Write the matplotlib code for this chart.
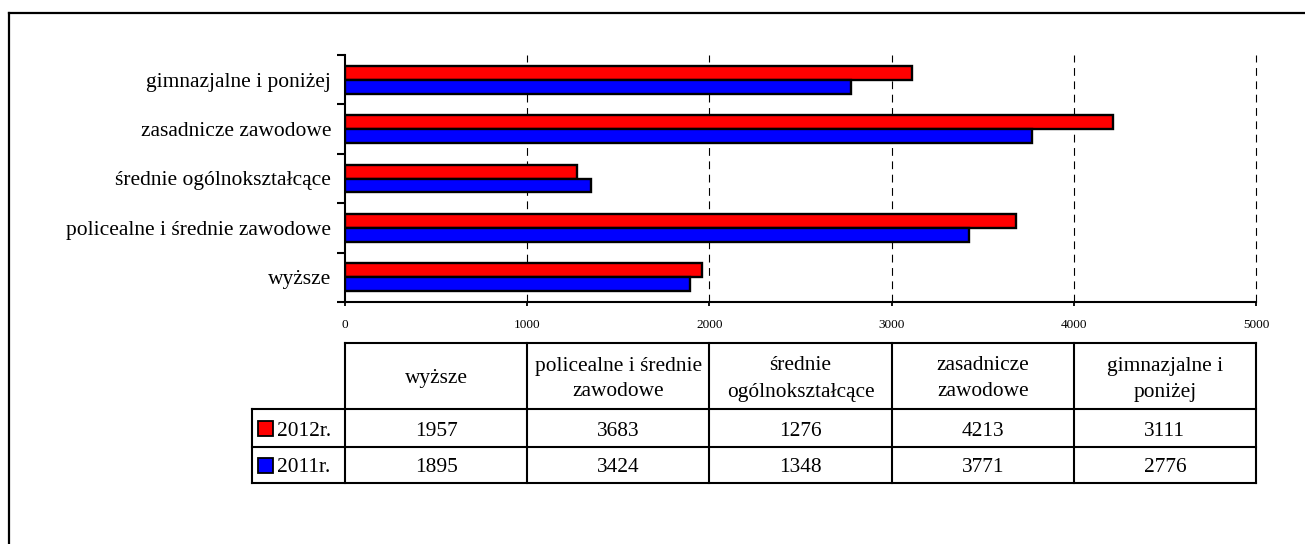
import matplotlib
matplotlib.use("Agg")
import matplotlib.pyplot as plt
import matplotlib.transforms as mtransforms
from matplotlib.patches import Rectangle
from matplotlib.lines import Line2D
import numpy as np

plt.rcParams['font.family'] = ['Liberation Serif', 'DejaVu Serif']

categories = ["wyższe", "policealne i średnie zawodowe", "średnie ogólnokształcące",
              "zasadnicze zawodowe", "gimnazjalne i poniżej"]
table_headers = ["wyższe", "policealne i średnie\nzawodowe", "średnie\nogólnokształcące",
                 "zasadnicze\nzawodowe", "gimnazjalne i\nponiżej"]
series_names = ["2012r.", "2011r."]
values_2012 = [1957, 3683, 1276, 4213, 3111]
values_2011 = [1895, 3424, 1348, 3771, 2776]
x_ticks = [0, 1000, 2000, 3000, 4000, 5000]

red = "#FF0000"
blue = "#0000FF"

W, H = 1305, 544
fig = plt.figure(figsize=(W / 100, H / 100), dpi=100)

def px_axes(l, t, r, b):
    return [l / W, 1 - b / H, (r - l) / W, (b - t) / H]

ax = fig.add_axes(px_axes(345, 55, 1256, 302))
y = np.arange(len(categories))
h = 0.28
ax.barh(y + h / 2, values_2012, height=h, color=red, edgecolor="black", linewidth=1.7, zorder=3)
ax.barh(y - h / 2, values_2011, height=h, color=blue, edgecolor="black", linewidth=1.7, zorder=3)

ax.set_xlim(0, 5000)
ax.set_ylim(-0.5, len(categories) - 0.5)
ax.set_xticks(x_ticks)
ax.set_xticklabels([str(v) for v in x_ticks], fontsize=9.5)
ax.tick_params(axis="x", direction="out", length=3, width=1.3, pad=9)
ax.set_yticks(np.arange(-0.5, len(categories), 1.0))
ax.set_yticklabels([])
ax.tick_params(axis="y", which="major", direction="out", length=6, width=1.5)
ax.set_yticks(y, minor=True)
ax.set_yticklabels(categories, minor=True, fontsize=15.5)
ax.tick_params(axis="y", which="minor", length=0, pad=10)
for s in ["top", "right"]:
    ax.spines[s].set_visible(False)
for s in ["left", "bottom"]:
    ax.spines[s].set_linewidth(1.5)
for xv in x_ticks[1:]:
    ax.axvline(xv, color="black", linestyle=(0, (7, 5)), linewidth=0.8, zorder=1, clip_on=False)

# table below, columns aligned with the x scale of the chart
tr = mtransforms.blended_transform_factory(ax.transData, mtransforms.IdentityTransform())
def fy(py):
    return H - py

lw = 1.5
top, hdr, r1, r2 = 343, 409, 447, 483
leg_left = -511
kw = dict(transform=tr, color="black", linewidth=lw, clip_on=False, solid_capstyle="projecting")
fig.add_artist(Line2D([0, 5000], [fy(top), fy(top)], **kw))
for py in (hdr, r1, r2):
    fig.add_artist(Line2D([leg_left, 5000], [fy(py), fy(py)], **kw))
for xv in x_ticks:
    fig.add_artist(Line2D([xv, xv], [fy(top), fy(r2)], **kw))
fig.add_artist(Line2D([leg_left, leg_left], [fy(hdr), fy(r2)], **kw))

for i, lab in enumerate(table_headers):
    fig.text(i * 1000 + 500, fy((top + hdr) / 2 + 3), lab, transform=tr, ha="center", va="center",
             fontsize=15.4, linespacing=1.5)
rows = [values_2012, values_2011]
colors = [red, blue]
for r, (vals, col, name) in enumerate(zip(rows, colors, series_names)):
    cyp = ((hdr, r1)[r] + (r1, r2)[r]) / 2
    cy = fy(cyp)
    ct = fy(cyp + 3)
    for i, v in enumerate(vals):
        fig.text(i * 1000 + 500, ct, str(v), transform=tr, ha="center", va="center", fontsize=15.4)
    sq = Rectangle((258, cy - 7.5), 15, 15, transform=mtransforms.IdentityTransform(),
                   facecolor=col, edgecolor="black", linewidth=1.3)
    fig.add_artist(sq)
    fig.text(277, ct, name, transform=mtransforms.IdentityTransform(), ha="left", va="center",
             fontsize=15.4)

# outer frame (extends beyond right and bottom edges)
fk = dict(transform=mtransforms.IdentityTransform(), color="black", linewidth=1.6)
fig.add_artist(Line2D([9, W + 5], [fy(13), fy(13)], **fk))
fig.add_artist(Line2D([9, 9], [fy(13), fy(H + 5)], **fk))

fig.savefig("out.png", dpi=100)
